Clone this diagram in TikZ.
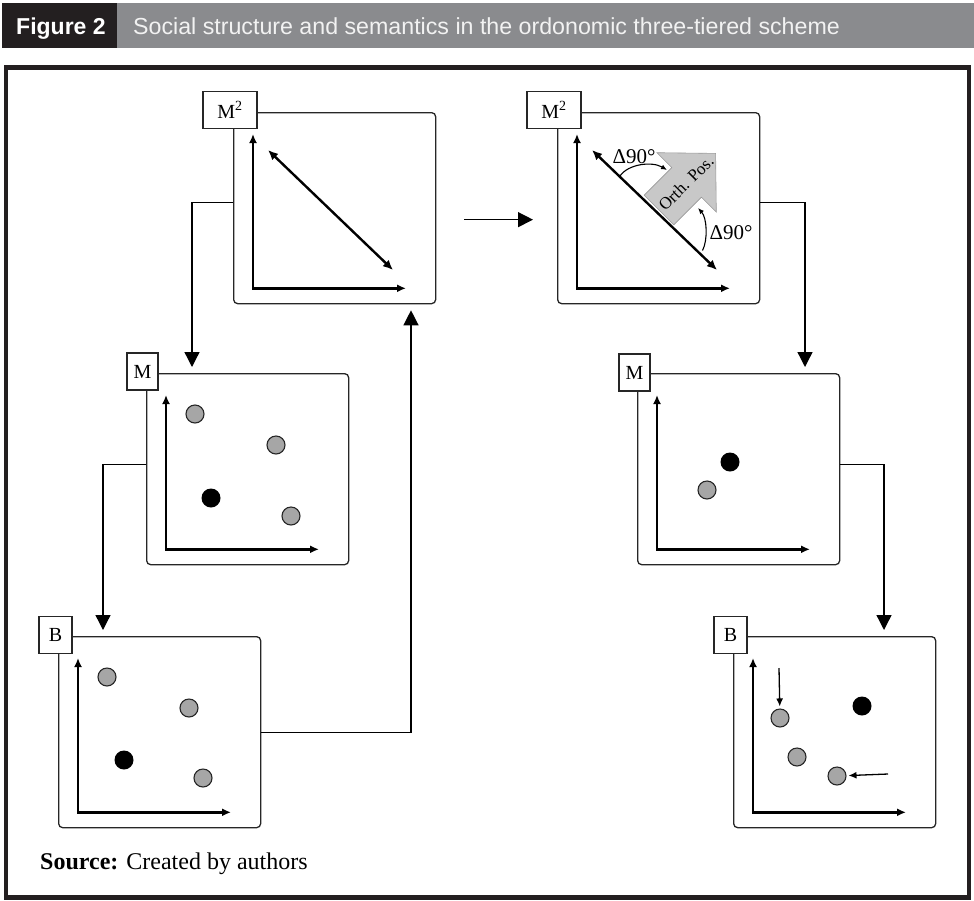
\documentclass[tikz,border=0pt]{standalone}
\usepackage{fontspec}
\setmainfont{Liberation Serif}
\newfontfamily\hdrfont{Liberation Sans}
\usetikzlibrary{arrows.meta,calc}
\definecolor{figblack}{HTML}{231F20}
\definecolor{hdrgray}{HTML}{8A8B8E}
\definecolor{dotgray}{HTML}{A6A6A6}
\definecolor{arrgray}{HTML}{C8C8C8}
\definecolor{hdrtext}{HTML}{F2F2F2}
\begin{document}
\begin{tikzpicture}[x=1pt,y=-1pt,
 panel/.style={draw=black!85, line width=1.3pt, rounded corners=4pt, minimum width=202pt, minimum height=191pt, anchor=north west, inner sep=0pt},
 lab/.style={draw=black!85, line width=1.1pt, fill=white, minimum height=37pt, inner sep=0pt, font=\fontsize{20}{24}\selectfont},
 axis/.style={line width=2.4pt, {Latex[length=9pt,width=8pt]}-{Latex[length=9pt,width=8pt]}},
 conn/.style={line width=1.3pt, -{Triangle[length=15pt,width=15pt]}, shorten >=6pt},
 gdot/.style={circle, draw=black!85, line width=1.1pt, fill=dotgray, minimum size=18pt, inner sep=0pt},
 bdot/.style={circle, fill=black, minimum size=19pt, inner sep=0pt},
 ptr/.style={line width=1.3pt, -{Latex[length=8pt,width=7pt]}, shorten >=2pt},
 diag/.style={line width=2.4pt, {Latex[length=10pt,width=9pt]}-{Latex[length=10pt,width=9pt]}},
 angarrow/.style={line width=1.1pt, -{Latex[length=6pt,width=5pt]}},
 deg/.style={font=\fontsize{21}{24}\selectfont, inner sep=0pt}
]
\useasboundingbox (0,0) rectangle (974,900);
% header
\fill[figblack] (2,3) rectangle (117,48);
\fill[hdrgray] (117,3) rectangle (974,48);
\node[anchor=base west, inner sep=0pt, text=white, font=\hdrfont\bfseries\fontsize{23}{26}\selectfont] (figlabel) at (16,34) {Figure 2};
\node[anchor=base west, inner sep=0pt, text=hdrtext, font=\hdrfont\fontsize{23.2}{26}\selectfont] (figtitle) at (133,34) {Social structure and semantics in the ordonomic three-tiered scheme};
% frame
\draw[line width=4.5pt, draw=figblack] (6,67.5) rectangle (969,897.5);
% panels
\node[panel] (pM2L) at (233,112) {};
\node[panel] (pML) at (146,373) {};
\node[panel] (pBL) at (58,636) {};
\node[panel] (pM2R) at (557,112) {};
\node[panel] (pMR) at (637,373) {};
\node[panel] (pBR) at (733,636) {};
% axes
\foreach \p in {pM2L,pML,pBL,pM2R,pMR,pBR}
  \draw[axis] ($(\p.north west)+(20,22)$) |- ($(\p.south west)+(173,-16)$);
% connectors
\draw[conn] ([yshift=5.5pt]pM2L.west) -| ($(pML.north west)+(46,0)$);
\draw[conn] ([yshift=4.5pt]pML.west) -| ($(pBL.north west)+(45,0)$);
\draw[conn] (pBL.east) -| ($(pM2L.south west)+(178,0)$);
\draw[conn, shorten >=0pt] ($(pM2L.east)+(28,11.5)$) -- ($(pM2R.west)+(-24,11.5)$);
\draw[conn] ([yshift=5.5pt]pM2R.east) -| ($(pMR.north west)+(168,0)$);
\draw[conn] ([yshift=4.5pt]pMR.east) -| ($(pBR.north west)+(151,0)$);
% labels
\node[lab, minimum width=54pt] (lM2L) at (230,110) {M\textsuperscript{2}};
\node[lab, minimum width=31pt] (lML) at (142.5,371.5) {M};
\node[lab, minimum width=33pt] (lBL) at (55.5,635) {B};
\node[lab, minimum width=54pt] (lM2R) at (554,110) {M\textsuperscript{2}};
\node[lab, minimum width=31pt] (lMR) at (634.5,372.5) {M};
\node[lab, minimum width=33pt] (lBR) at (730.5,635) {B};
% left M2 content
\coordinate (dLa) at (268,150);
\coordinate (dLb) at (393,270);
\draw[diag] (dLa) -- (dLb);
% right M2 content
\fill[arrgray, draw=gray!80, line width=0.6pt] (644.2,195.2) -- (671.8,167.6) -- (656.9,152.7) -- (715.6,153.4) -- (716.3,212.1) -- (701.4,197.2) -- (673.8,224.8) -- cycle;
\node[rotate=45, inner sep=0pt, font=\fontsize{17}{20}\selectfont] (orth) at (686,183) {Orth. Pos.};
\coordinate (dRa) at (592,150);
\coordinate (dRb) at (717,270);
\draw[diag] (dRa) -- (dRb);
\coordinate (a1s) at (620,176);
\coordinate (a1e) at (667,170);
\draw[angarrow] (a1s) .. controls (628,164) and (652,161) .. (a1e);
\coordinate (a2s) at (702.5,250.5);
\coordinate (a2e) at (698,208);
\draw[angarrow] (a2s) .. controls (708,240) and (707,218) .. (a2e);
\node[deg] (deg1) at (634,157) {Δ90°};
\node[deg] (deg2) at (731,233) {Δ90°};
% left M dots
\node[gdot] (mL1) at (195,414) {};
\node[gdot] (mL2) at (276,445) {};
\node[bdot] (mL3) at (211,498) {};
\node[gdot] (mL4) at (291,516) {};
% left B dots
\node[gdot] (bL1) at (107,677) {};
\node[gdot] (bL2) at (189,708) {};
\node[bdot] (bL3) at (124,760) {};
\node[gdot] (bL4) at (203,778) {};
% right M dots
\node[bdot] (mR1) at (730,462) {};
\node[gdot] (mR2) at (707,490) {};
% right B dots
\node[gdot] (bR1) at (780,718) {};
\node[bdot] (bR2) at (862,706) {};
\node[gdot] (bR3) at (797,757) {};
\node[gdot] (bR4) at (837,776) {};
\coordinate (pa) at (779,668);
\coordinate (pb) at (888,774);
\draw[ptr] (pa) -- (bR1);
\draw[ptr] (pb) -- (bR4);
% source
\node[anchor=base west, inner sep=0pt, font=\fontsize{24}{28}\selectfont] (src) at (40,869) {\textbf{Source:} Created by authors};
\end{tikzpicture}
\end{document}
